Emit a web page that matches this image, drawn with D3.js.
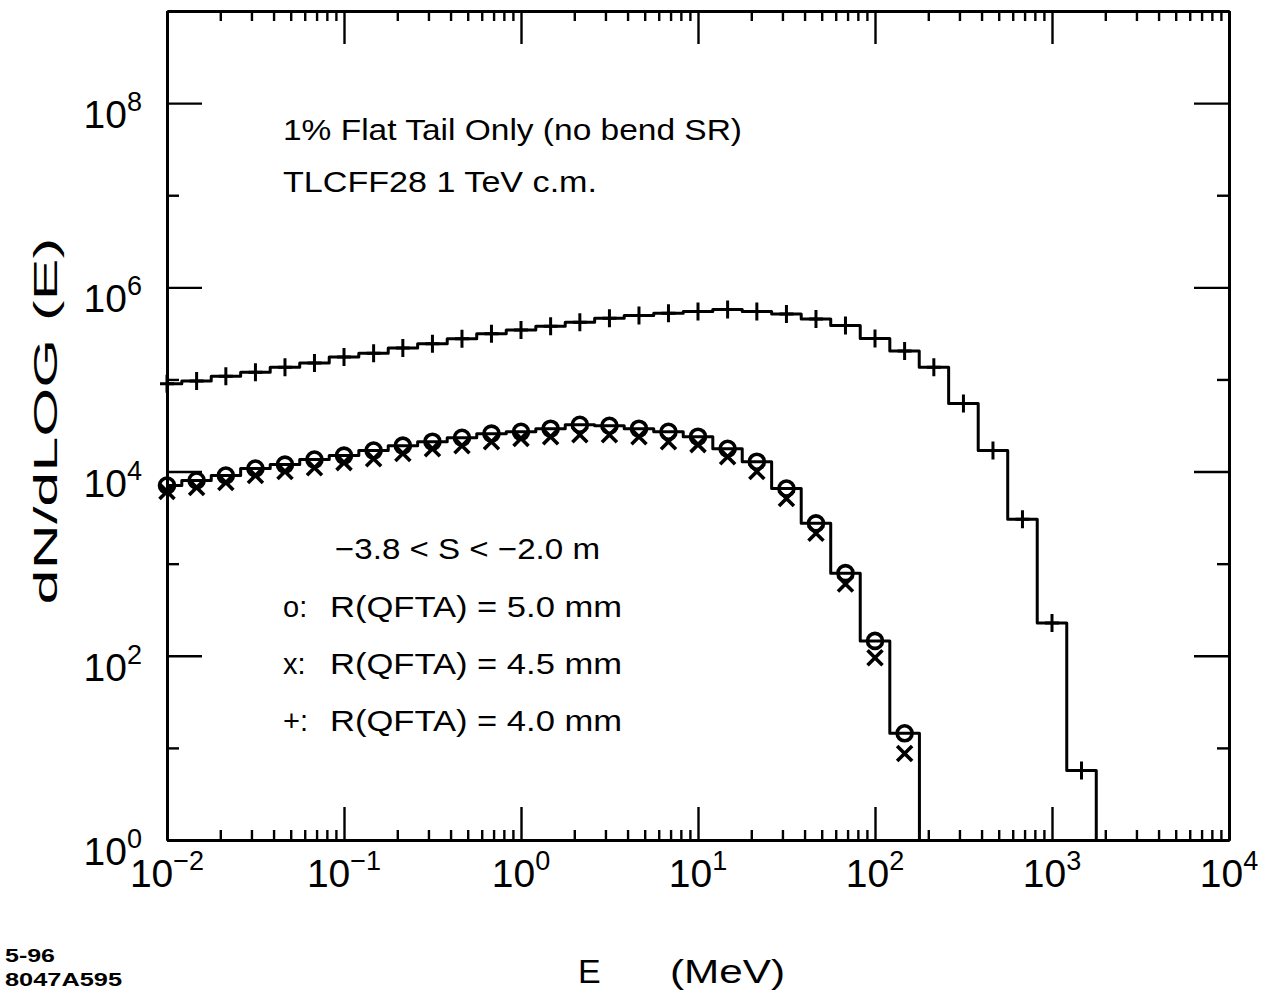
<!DOCTYPE html>
<html><head><meta charset="utf-8">
<script src="https://cdn.jsdelivr.net/npm/d3@7"></script>
<style>
body{margin:0;background:#fff}
svg{display:block}
text{font-family:"Liberation Sans",Arial,Helvetica,sans-serif;fill:#000}
</style>
</head><body>
<svg id="c" width="1267" height="997"></svg>
<script>
// ---- data ----
// bin centres, MeV (log spaced, 6 per decade)
const energies = [0.0100,0.0147,0.0215,0.0316,0.0464,0.0681,0.100,0.147,0.215,0.316,0.464,0.681,
  1.00,1.47,2.15,3.16,4.64,6.81,10.0,14.7,21.5,31.6,46.4,68.1,100,147,215,316,464,681,1000,1468];
// "+" R(QFTA) = 4.0 mm
const r40 = [9.0e4,9.6e4,1.08e5,1.2e5,1.36e5,1.51e5,1.75e5,1.93e5,2.19e5,2.44e5,2.76e5,3.13e5,
  3.45e5,3.78e5,4.19e5,4.62e5,4.94e5,5.24e5,5.46e5,5.74e5,5.46e5,5.14e5,4.54e5,3.85e5,2.79e5,
  2.03e5,1.36e5,5.47e4,1.69e4,3.03e3,227,5.7];
// "o" R(QFTA) = 5.0 mm
const r50 = [7060,8000,9060,1.08e4,1.19e4,1.35e4,1.49e4,1.69e4,1.91e4,2.11e4,2.33e4,2.58e4,
  2.70e4,2.92e4,3.22e4,3.14e4,2.92e4,2.70e4,2.39e4,1.77e4,1.28e4,6550,2740,789,145,14.4];
// "x" R(QFTA) = 4.5 mm
const r45 = [6080,6710,7600,9060,1.0e4,1.10e4,1.25e4,1.38e4,1.57e4,1.77e4,1.91e4,2.11e4,
  2.28e4,2.39e4,2.51e4,2.51e4,2.39e4,2.11e4,1.96e4,1.45e4,1.0e4,5110,2140,600,95,8.7];

const xTickVals = [1e-2,1e-1,1,10,100,1e3,1e4];
const xTickExps = ["−2","−1","0","1","2","3","4"];
const yTickVals = [1,1e2,1e4,1e6,1e8];
const yTickExps = ["0","2","4","6","8"];
const yMinorVals = [10,1e3,1e5,1e7];
const titleLines = ["1% Flat Tail Only (no bend SR)","TLCFF28 1 TeV c.m."];
const regionLabel = "−3.8 < S < −2.0 m";
const legendSymbols = ["o:","x:","+:"];
const legendLabels = ["R(QFTA) = 5.0 mm","R(QFTA) = 4.5 mm","R(QFTA) = 4.0 mm"];
const xLabelParts = ["E","(MeV)"];
const yLabel = "dN/dLOG (E)";
const stamp = ["5-96","8047A595"];

// ---- layout ----
const L=167, R=1229, T=11, B=840;
const svg = d3.select("#c");
const x = d3.scaleLog().domain([1e-2,1e4]).range([L,R]);
const y = d3.scaleLog().domain([1,1e9]).range([B,T]);

svg.append("defs").append("clipPath").attr("id","pa")
  .append("rect").attr("x",L).attr("y",T).attr("width",R-L).attr("height",B-T);

// minor x ticks 2..9 per decade
const xMinor = [];
for (let d=-2; d<4; d++) for (let m=2; m<10; m++) xMinor.push(m*Math.pow(10,d));

function styleAxis(g){
  g.select(".domain").attr("stroke","#000").attr("stroke-width",3);
  g.selectAll(".tick line").attr("stroke","#000").attr("stroke-width",2.4);
  g.selectAll(".tick text").remove();
}
const ax = [
  [d3.axisBottom(x).tickValues(xTickVals).tickSize(-33), `translate(0,${B})`],
  [d3.axisBottom(x).tickValues(xMinor).tickSize(-10), `translate(0,${B})`],
  [d3.axisTop(x).tickValues(xTickVals).tickSize(-33), `translate(0,${T})`],
  [d3.axisTop(x).tickValues(xMinor).tickSize(-10), `translate(0,${T})`],
  [d3.axisLeft(y).tickValues(yTickVals).tickSize(-35), `translate(${L},0)`],
  [d3.axisLeft(y).tickValues(yMinorVals).tickSize(-12), `translate(${L},0)`],
  [d3.axisRight(y).tickValues(yTickVals).tickSize(-35), `translate(${R},0)`],
  [d3.axisRight(y).tickValues(yMinorVals).tickSize(-12), `translate(${R},0)`]
];
ax.forEach(([a,t])=>{
  const g = svg.append("g").attr("transform",t).call(a.tickSizeOuter(0).tickFormat(""));
  styleAxis(g);
});

// tick labels
xTickVals.forEach((v,i)=>{
  const t = svg.append("text").attr("x",x(v)).attr("y",887)
    .attr("text-anchor","middle").attr("font-size",39);
  t.append("tspan").text("10");
  t.append("tspan").attr("dy",-17).attr("font-size",27).text(xTickExps[i]);
});
yTickVals.forEach((v,i)=>{
  const t = svg.append("text").attr("x",142).attr("y",y(v)+25)
    .attr("text-anchor","end").attr("font-size",39);
  t.append("tspan").text("10");
  t.append("tspan").attr("dy",-17).attr("font-size",27).text(yTickExps[i]);
});

// histogram step lines
function steps(vals){
  const pts = [];
  const n = vals.length;
  for (let i=0;i<n;i++){
    const e = energies[i];
    const lo = i>0 ? Math.sqrt(energies[i-1]*e) : e*e/Math.sqrt(e*energies[1]);
    const hi = i<n-1 ? Math.sqrt(e*energies[i+1]) : e*Math.sqrt(e/energies[i-1]);
    pts.push([x(lo),y(vals[i])],[x(hi),y(vals[i])]);
    if (i===n-1) pts.push([x(hi),B]);
  }
  return d3.line()(pts);
}
const plot = svg.append("g").attr("clip-path","url(#pa)");
[r40,r50].forEach(vals=>{
  plot.append("path").attr("d",steps(vals)).attr("fill","none")
    .attr("stroke","#000").attr("stroke-width",3).attr("stroke-linejoin","round");
});

// markers
const mk = svg.append("g").attr("stroke","#000").attr("stroke-width",3.6).attr("fill","none");
mk.selectAll(".o").data(r50).join("circle")
  .attr("cx",(d,i)=>x(energies[i])).attr("cy",d=>y(d)).attr("r",7.5);
mk.selectAll(".x").data(r45).join("path")
  .attr("d",(d,i)=>{const cx=x(energies[i]), cy=y(d);
    return `M${cx-7.5},${cy-7.5}L${cx+7.5},${cy+7.5}M${cx-7.5},${cy+7.5}L${cx+7.5},${cy-7.5}`;});
mk.selectAll(".p").data(r40).join("path").attr("stroke-width",3)
  .attr("d",(d,i)=>{const cx=x(energies[i]), cy=y(d);
    return `M${cx},${cy-9}V${cy+9}M${cx-7},${cy}H${cx+7}`;});

// annotation text
svg.append("text").attr("x",283).attr("y",140).attr("font-size",29)
  .attr("textLength",459).attr("lengthAdjust","spacingAndGlyphs").text(titleLines[0]);
svg.append("text").attr("x",283).attr("y",192).attr("font-size",29)
  .attr("textLength",314).attr("lengthAdjust","spacingAndGlyphs").text(titleLines[1]);
svg.append("text").attr("x",335).attr("y",559).attr("font-size",29)
  .attr("textLength",265).attr("lengthAdjust","spacingAndGlyphs").text(regionLabel);
legendLabels.forEach((s,i)=>{
  const yy = 617 + i*57;
  svg.append("text").attr("x",283).attr("y",yy).attr("font-size",29).text(legendSymbols[i]);
  svg.append("text").attr("x",330).attr("y",yy).attr("font-size",29)
    .attr("textLength",292).attr("lengthAdjust","spacingAndGlyphs").text(s);
});

// axis titles
svg.append("text").attr("transform","translate(57,421) rotate(-90)")
  .attr("text-anchor","middle").attr("font-size",33)
  .attr("textLength",367).attr("lengthAdjust","spacingAndGlyphs").text(yLabel);
svg.append("text").attr("x",578).attr("y",983).attr("font-size",34).text(xLabelParts[0]);
svg.append("text").attr("x",670).attr("y",983).attr("font-size",34)
  .attr("textLength",115).attr("lengthAdjust","spacingAndGlyphs").text(xLabelParts[1]);

// stamp
svg.append("text").attr("x",5).attr("y",962).attr("font-size",18).attr("font-weight","bold")
  .attr("textLength",50).attr("lengthAdjust","spacingAndGlyphs").text(stamp[0]);
svg.append("text").attr("x",5).attr("y",986).attr("font-size",18).attr("font-weight","bold")
  .attr("textLength",117).attr("lengthAdjust","spacingAndGlyphs").text(stamp[1]);
</script>
</body></html>
